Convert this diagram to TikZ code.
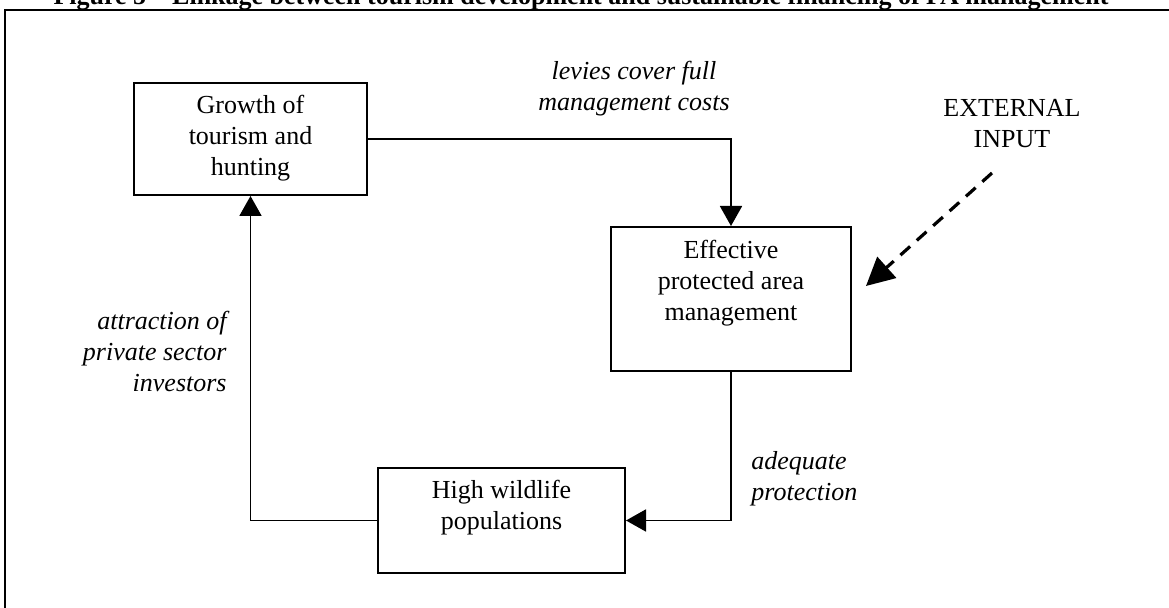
\documentclass[tikz,border=0pt]{standalone}
\usepackage{fontspec}
\setmainfont{Liberation Serif}
\usetikzlibrary{arrows.meta,positioning}

\tikzset{box/.style = {draw, line width=1pt, inner sep=0pt},
         boxtext/.style = {align=center, inner sep=0pt, font=\fontsize{13}{15.5}\selectfont},
         note/.style = {inner sep=0pt, font=\fontsize{13}{15.5}\selectfont\itshape},
         flow/.style = {line width=0.95pt, -{Triangle[length=10pt,width=11pt]}},
         extflow/.style = {line width=1.6pt, dash pattern=on 6.5pt off 4.5pt,
                           -{Triangle[length=14pt,width=14pt]}}
        }

\begin{document}
\begin{tikzpicture}[x=0.5pt,y=-0.5pt]
\useasboundingbox (0,0) rectangle (1169,608);
\clip (0,0) rectangle (1169,608);
% frame and title, cut by the page
\draw[line width=1pt] (5,10) rectangle (1200,640);
\node[anchor=base, inner sep=0pt, font=\fontsize{13}{16}\selectfont\bfseries] (title) at (581,5)
  {Figure 5 -- Linkage between tourism development and sustainable financing of PA management};
% boxes
\node[box, minimum width=116.5pt, minimum height=56pt] (growth) at (250.5,139) {};
\node[box, minimum width=120pt, minimum height=72pt] (epa) at (731,299) {};
\node[box, minimum width=123.5pt, minimum height=52.5pt] (wild) at (501.5,520.5) {};
\node[boxtext] (growthtxt) at (250.5,138) {Growth of\\tourism and\\hunting};
\node[boxtext] (epatxt) at (731,283) {Effective\\protected area\\management};
\node[boxtext] (wildtxt) at (501.5,508) {High wildlife\\populations};
% labels
\node[note, align=center] (levies) at (634,89) {levies cover full\\management costs};
\node[note, align=right, anchor=east] (attract) at (227,351) {attraction of\\private sector\\investors};
\node[note, align=left, anchor=west] (adequate) at (751,479) {adequate\\protection};
\node[boxtext] (ext) at (1012,124) {EXTERNAL\\INPUT};
\coordinate (extstart) at (992,173);
\coordinate (exttip) at (866,286);
% links
\draw[flow] (growth.east) -| (epa.north);
\draw[flow] (epa.south) |- (wild.east);
\draw[flow] (wild.west) -| (growth.south);
\draw[extflow] (extstart) -- (exttip);
\end{tikzpicture}
\end{document}
